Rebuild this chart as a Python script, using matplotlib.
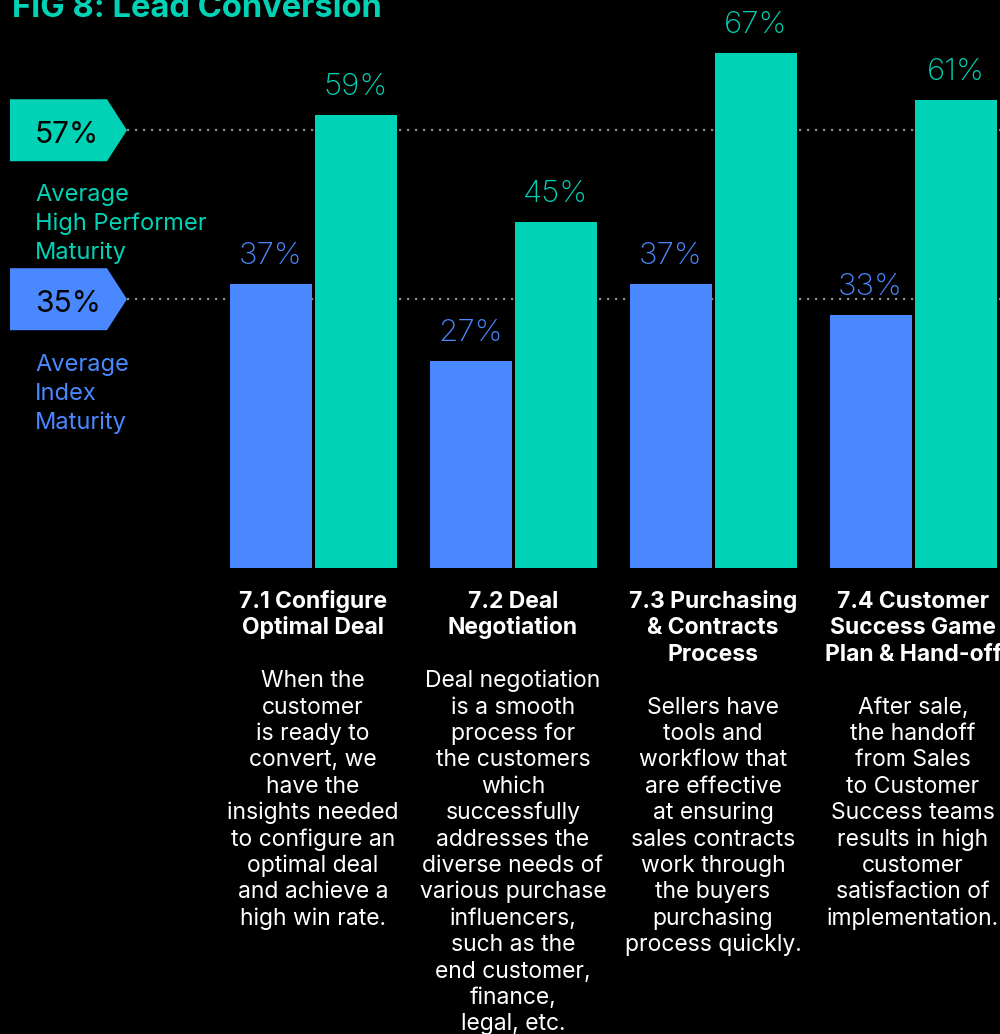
import matplotlib
matplotlib.use("Agg")
import matplotlib.pyplot as plt
from matplotlib.patches import Polygon
from matplotlib.transforms import blended_transform_factory

# -----------------------------
# data
# -----------------------------
categories = [
    ["7.1 Configure", "Optimal Deal"],
    ["7.2 Deal", "Negotiation"],
    ["7.3 Purchasing", "& Contracts", "Process"],
    ["7.4 Customer", "Success Game", "Plan & Hand-off"],
]
descriptions = [
    ["When the", "customer", "is ready to", "convert, we", "have the",
     "insights needed", "to configure an", "optimal deal",
     "and achieve a", "high win rate."],
    ["Deal negotiation", "is a smooth", "process for", "the customers",
     "which", "successfully", "addresses the", "diverse needs of",
     "various purchase", "influencers,", "such as the", "end customer,",
     "finance,", "legal, etc."],
    ["Sellers have", "tools and", "workflow that", "are effective",
     "at ensuring", "sales contracts", "work through", "the buyers",
     "purchasing", "process quickly."],
    ["After sale,", "the handoff", "from Sales", "to Customer",
     "Success teams", "results in high", "customer",
     "satisfaction of", "implementation."],
]
index_maturity = [37, 27, 37, 33]
high_performer = [59, 45, 67, 61]
avg_index = 35
avg_high = 57

BLUE = "#4a88ff"
TEAL = "#00d3b5"
GREY = "#8c8c8c"
FONT = "Inter"

# -----------------------------
# layout
# -----------------------------
W, H = 1000, 1034
base_px = 568          # bar baseline, px from top
px_per_pct = 7.68
group_px = 200
first_px = 313

fig = plt.figure(figsize=(W / 100, H / 100), dpi=100, facecolor="black")
ax = fig.add_axes([0, 1 - base_px / H, 1, base_px / H])
ax.set_facecolor("black")
ax.set_xlim(-first_px / group_px, (W - first_px) / group_px)
ax.set_ylim(0, base_px / px_per_pct)
ax.axis("off")

def xpx(p):
    return (p - first_px) / group_px

x = list(range(len(categories)))
bw = 0.41
off = 0.2125
ax.bar([i - off for i in x], index_maturity, width=bw, color=BLUE, zorder=3)
ax.bar([i + off for i in x], high_performer, width=bw, color=TEAL, zorder=3)

lab_gap = 2.6
for i in x:
    ax.text(i - off, index_maturity[i] + lab_gap, f"{index_maturity[i]}%",
            ha="center", va="baseline", color=BLUE, fontsize=22.5,
            fontweight="light", family=FONT)
    ax.text(i + off, high_performer[i] + lab_gap, f"{high_performer[i]}%",
            ha="center", va="baseline", color=TEAL, fontsize=22.5,
            fontweight="light", family=FONT)

# average badges with dotted reference lines
half_h = 31 / px_per_pct
left, body, tip = xpx(10), xpx(107), xpx(127)
for val, col in [(avg_high, TEAL), (avg_index, BLUE)]:
    ax.plot([tip, ax.get_xlim()[1]], [val, val], color=GREY, lw=1.6,
            linestyle=(0, (1, 2.6)), zorder=1)
    badge = Polygon([(left, val - half_h), (body, val - half_h), (tip, val),
                     (body, val + half_h), (left, val + half_h)],
                    closed=True, facecolor=col, edgecolor="none", zorder=4)
    ax.add_patch(badge)
    ax.text(xpx(35), val - 13 / px_per_pct, f"{val}%", ha="left",
            va="baseline", color="black", fontsize=21.5, family=FONT, zorder=5)

# legend captions under each badge
for lines, top, col in [(["Average", "High Performer", "Maturity"], 193, TEAL),
                        (["Average", "Index", "Maturity"], 363, BLUE)]:
    for k, line in enumerate(lines):
        fig.text(35 / W, 1 - (top + 8 + 29 * k) / H, line, ha="left",
                 va="baseline", color=col, fontsize=17, family=FONT)

# category headings and descriptions below the bars
trans = blended_transform_factory(ax.transData, fig.transFigure)
pitch = 26.4
for i in x:
    rows = [(t, "bold") for t in categories[i]] + [("", "normal")] + \
           [(t, "normal") for t in descriptions[i]]
    for k, (t, wt) in enumerate(rows):
        if not t:
            continue
        y = 600 + 8 + pitch * k
        ax.text(i, 1 - y / H, t, transform=trans, ha="center", va="baseline",
                color="white", fontsize=16.5, fontweight=wt, family=FONT,
                clip_on=False)

fig.text(12 / W, 1 - 17 / H, "FIG 8: Lead Conversion", ha="left",
         va="baseline", color=TEAL, fontsize=23.5, fontweight="bold",
         family=FONT)

fig.savefig("out.png", dpi=100, facecolor="black")
